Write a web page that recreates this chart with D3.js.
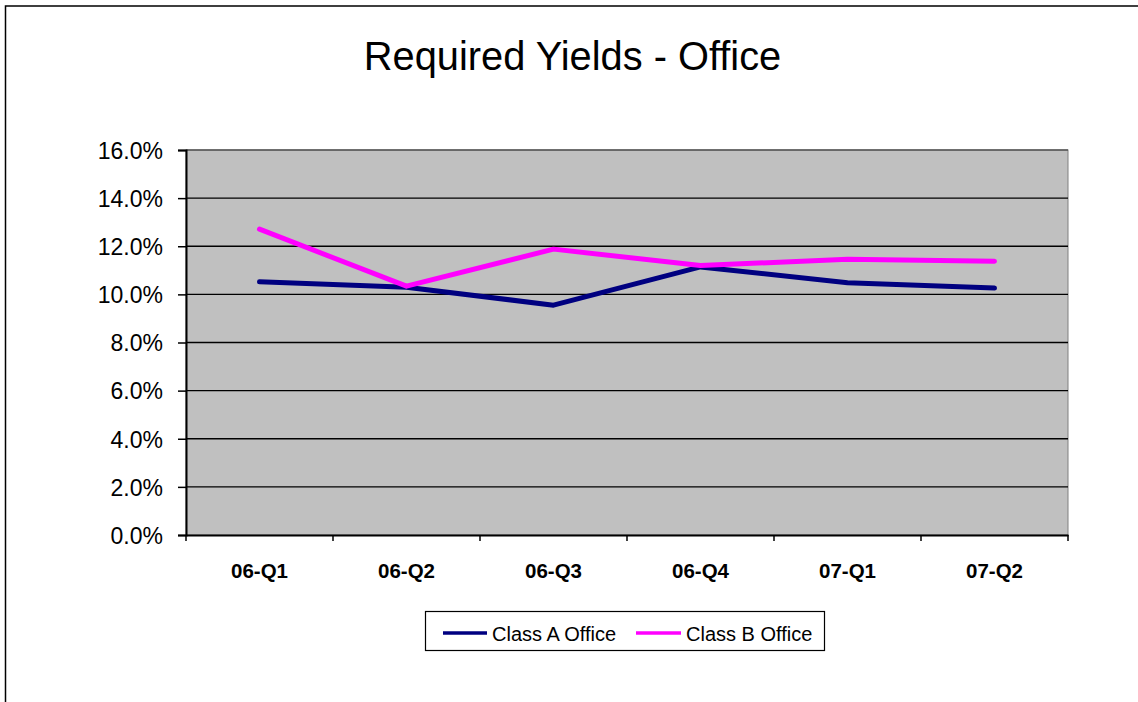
<!DOCTYPE html>
<html>
<head>
<meta charset="utf-8">
<script src="https://cdn.jsdelivr.net/npm/d3@7"></script>
<style>
  html, body { margin: 0; padding: 0; background: #fff; }
  svg { display: block; font-family: "Liberation Sans", Arial, sans-serif; }
</style>
</head>
<body>
<svg id="chart" width="1138" height="702"></svg>
<script>
const title = "Required Yields - Office";
const categories = ["06-Q1", "06-Q2", "06-Q3", "06-Q4", "07-Q1", "07-Q2"];
const classA = [10.52, 10.30, 9.55, 11.14, 10.48, 10.26];
const classB = [12.71, 10.34, 11.88, 11.20, 11.46, 11.38];
const seriesNames = ["Class A Office", "Class B Office"];
const seriesColors = ["#000080", "#FF00FF"];
const yTicks = [0, 2, 4, 6, 8, 10, 12, 14, 16];

const svg = d3.select("#chart");
const W = 1138, H = 702;
const plot = { left: 186, top: 150, right: 1068, bottom: 535 };

// outer border
svg.append("rect").attr("x", 5.5).attr("y", 6).attr("width", W + 10).attr("height", H + 10)
  .attr("fill", "#fff").attr("stroke", "#000").attr("stroke-width", 1.5);

// title
svg.append("text").attr("x", 572.5).attr("y", 69.5).attr("text-anchor", "middle")
  .attr("font-size", "39.8px").attr("fill", "#000").text(title);

const x = d3.scaleBand().domain(categories).range([plot.left, plot.right]);
const y = d3.scaleLinear().domain([0, 16]).range([plot.bottom, plot.top]);

// plot background
svg.append("rect").attr("x", plot.left).attr("y", plot.top)
  .attr("width", plot.right - plot.left).attr("height", plot.bottom - plot.top)
  .attr("fill", "#C0C0C0").attr("stroke", "#808080").attr("stroke-width", 1);

// gridlines
svg.append("g").selectAll("line").data(yTicks.filter(d => d > 0)).join("line")
  .attr("x1", plot.left).attr("x2", plot.right)
  .attr("y1", d => y(d)).attr("y2", d => y(d))
  .attr("stroke", d => d === 16 ? "#555" : "#000").attr("stroke-width", 1.3);

// y axis
const yAxis = d3.axisLeft(y).tickValues(yTicks).tickSize(8).tickPadding(15)
  .tickFormat(d => d.toFixed(1) + "%");
const gy = svg.append("g").attr("transform", `translate(${plot.left},0)`).call(yAxis);
gy.select(".domain").attr("stroke", "#000").attr("stroke-width", 2);
gy.selectAll(".tick line").attr("stroke", "#000").attr("stroke-width", 1.5);
gy.selectAll(".tick text").attr("font-size", "23px").attr("fill", "#000")
  .attr("font-family", "'Liberation Sans', Arial, sans-serif").attr("dy", "0.36em");

// x axis
const xAxis = d3.axisBottom(x).tickSize(0).tickPadding(28);
const gx = svg.append("g").attr("transform", `translate(0,${plot.bottom})`).call(xAxis);
gx.select(".domain").attr("stroke", "#000").attr("stroke-width", 2);
gx.selectAll(".tick text").attr("font-size", "20.5px").attr("font-weight", "bold").attr("fill", "#000")
  .attr("font-family", "'Liberation Sans', Arial, sans-serif");
// x tick marks at band boundaries
const bounds = categories.map(c => x(c)).concat([x(categories[categories.length - 1]) + x.bandwidth()]);
svg.append("g").selectAll("line").data(bounds).join("line")
  .attr("x1", d => d).attr("x2", d => d).attr("y1", plot.bottom).attr("y2", plot.bottom + 6)
  .attr("stroke", "#000").attr("stroke-width", 1.5);

// lines
const line = d3.line().x((d, i) => x(categories[i]) + x.bandwidth() / 2).y(d => y(d));
[classA, classB].forEach((s, i) => {
  svg.append("path").datum(s).attr("d", line).attr("fill", "none")
    .attr("stroke", seriesColors[i]).attr("stroke-width", 5)
    .attr("stroke-linecap", "round").attr("stroke-linejoin", "round");
});

// legend
const lg = svg.append("g");
lg.append("rect").attr("x", 425.5).attr("y", 611.5).attr("width", 399).attr("height", 39)
  .attr("fill", "#fff").attr("stroke", "#000").attr("stroke-width", 1.2);
const legendItems = [{ x1: 443, x2: 487, tx: 492 }, { x1: 636, x2: 681, tx: 686 }];
legendItems.forEach((it, i) => {
  lg.append("line").attr("x1", it.x1).attr("x2", it.x2).attr("y1", 633).attr("y2", 633)
    .attr("stroke", seriesColors[i]).attr("stroke-width", 3.5);
  lg.append("text").attr("x", it.tx).attr("y", 641).attr("font-size", "20px").attr("fill", "#000")
    .text(seriesNames[i]);
});
</script>
</body>
</html>
